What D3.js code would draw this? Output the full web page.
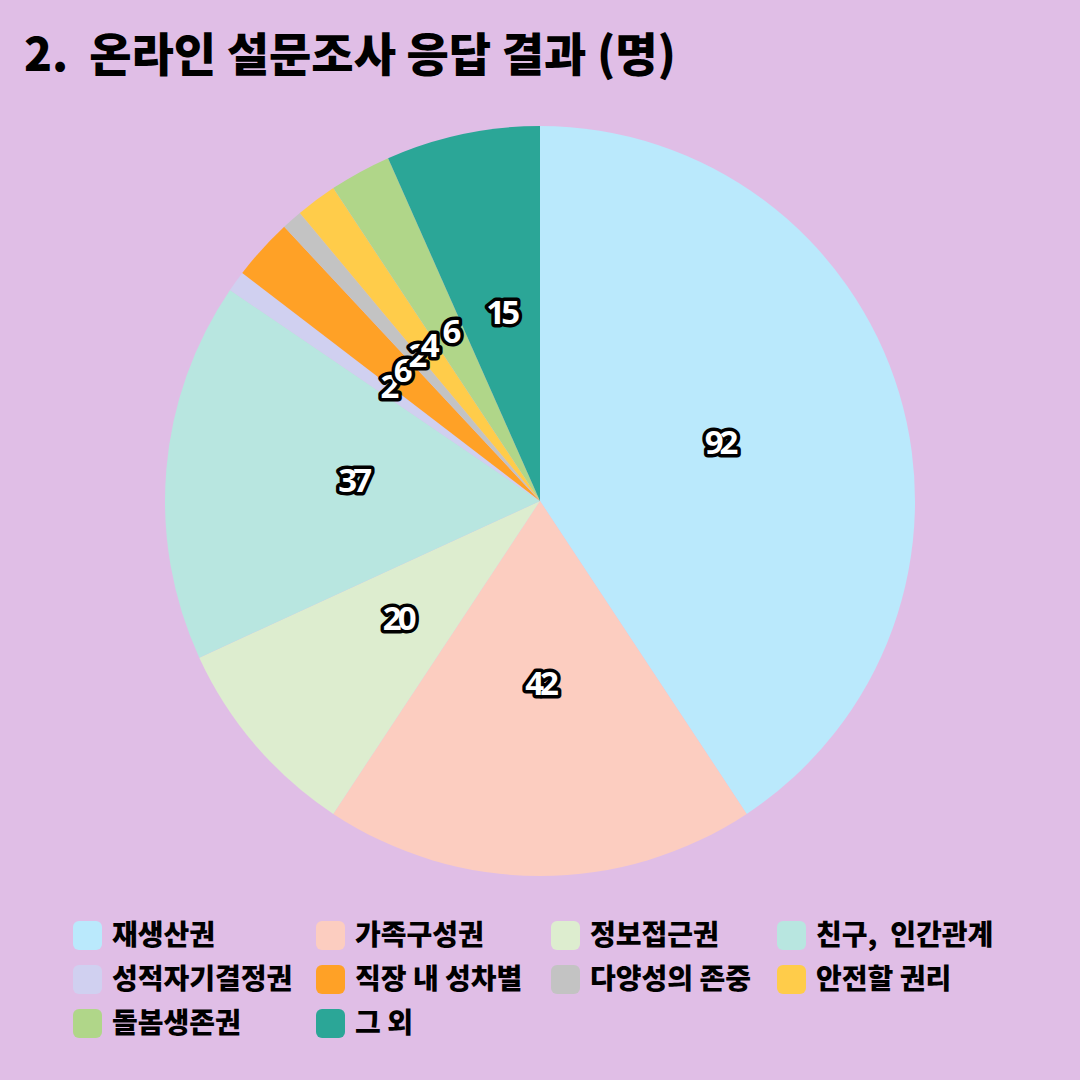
<!DOCTYPE html>
<html>
<head>
<meta charset="utf-8">
<script src="https://cdn.jsdelivr.net/npm/d3@7"></script>
<style>
  body { margin: 0; background: #E0BEE6; }
  svg { display: block; }
</style>
</head>
<body>
<svg id="chart" width="1080" height="1080"></svg>
<script>
// data
const categories = ["재생산권", "가족구성권", "정보접근권", "친구,  인간관계", "성적자기결정권",
                    "직장 내 성차별", "다양성의 존중", "안전할 권리", "돌봄생존권", "그 외"];
const counts = [92, 42, 20, 37, 2, 6, 2, 4, 6, 15];
const colors = ["#BAE9FC", "#FCCDC0", "#DDEDCF", "#B8E6E0", "#D0D0F0",
                "#FFA126", "#C3C3C3", "#FFCC4A", "#B0D689", "#2BA697"];

const width = 1080, height = 1080;
const cx = 540, cy = 501, radius = 375;

let svg = d3.select("#chart");

svg.append("rect")
   .attr("width", width)
   .attr("height", height)
   .attr("fill", "#E0BEE6");

svg.append("text")
   .attr("x", 24)
   .attr("y", 71)
   .attr("font-family", "'Noto Sans CJK KR'")
   .attr("font-weight", 900)
   .attr("font-size", 46)
   .attr("fill", "#000")
   .attr("xml:space", "preserve")
   .text("2.  온라인 설문조사 응답 결과 (명)");

let slices = categories.map((c, i) => ({ name: c, value: counts[i], color: colors[i] }));

let pie = d3.pie()
            .value(d => d.value)
            .sort(null);

let arc = d3.arc()
            .innerRadius(0)
            .outerRadius(radius);

let labelArc = d3.arc()
                 .innerRadius(radius * 0.5)
                 .outerRadius(radius * 0.5);

let pieView = svg.append("g")
                 .attr("transform", `translate(${cx},${cy})`);

let arcs = pie(slices);

pieView.selectAll("path")
       .data(arcs)
       .join("path")
       .attr("d", arc)
       .attr("fill", d => d.data.color);

// value labels; the thin slices crowd together just like in the original
pieView.selectAll("text")
       .data(arcs)
       .join("text")
       .attr("transform", d => `translate(${labelArc.centroid(d)})`)
       .attr("text-anchor", "middle")
       .attr("dy", "0.2em")
       .attr("font-family", "'Noto Sans'")
       .attr("font-weight", 700)
       .attr("font-size", 33)
       .attr("letter-spacing", -4)
       .attr("fill", "#fff")
       .attr("stroke", "#000")
       .attr("stroke-width", 7)
       .attr("stroke-linejoin", "round")
       .attr("paint-order", "stroke")
       .text(d => d.data.value);

// legend, four columns
let colX = [73, 316, 551, 777];
let rowY = [921, 965, 1009];

let legend = svg.append("g");

let items = legend.selectAll("g")
                  .data(slices)
                  .join("g")
                  .attr("transform", (d, i) => `translate(${colX[i % 4]},${rowY[Math.floor(i / 4)]})`);

items.append("rect")
     .attr("width", 29)
     .attr("height", 29)
     .attr("rx", 6)
     .attr("fill", d => d.color);

items.append("text")
     .attr("x", 39)
     .attr("y", 24)
     .attr("font-family", "'Noto Sans CJK KR'")
     .attr("font-weight", 900)
     .attr("font-size", 28)
     .attr("fill", "#000")
     .attr("xml:space", "preserve")
     .text(d => d.name);
</script>
</body>
</html>
